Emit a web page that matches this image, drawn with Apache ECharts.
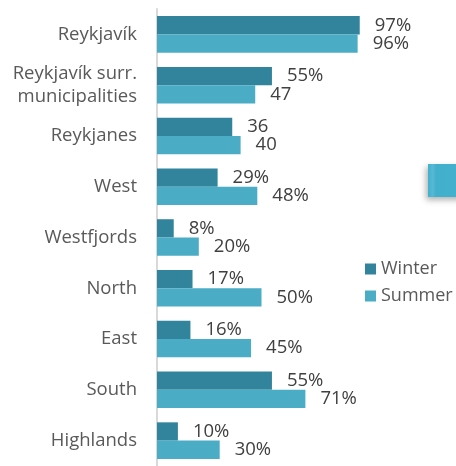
<!DOCTYPE html>
<html>
<head>
<meta charset="utf-8">
<script src="https://cdn.jsdelivr.net/npm/echarts@6/dist/echarts.min.js"></script>
<style>
  html, body { margin: 0; padding: 0; background: #ffffff; }
  #chart { width: 456px; height: 466px; }
</style>
</head>
<body>
<div id="chart"></div>
<script>
// Share of visitors per region, winter vs summer
const regions = [
  'Reykjavík',
  'Reykjavík surr.\nmunicipalities',
  'Reykjanes',
  'West',
  'Westfjords',
  'North',
  'East',
  'South',
  'Highlands'
];
const winterValues = [97, 55, 36, 29, 8, 17, 16, 55, 10];
const summerValues = [96, 47, 40, 48, 20, 50, 45, 71, 30];
const winterLabels = ['97%', '55%', '36', '29%', '8%', '17%', '16%', '55%', '10%'];
const summerLabels = ['96%', '47', '40', '48%', '20%', '50%', '45%', '71%', '30%'];

const FONT = '"Open Sans", "Noto Sans", sans-serif';
const LABEL_SIZE = 18.5;
const LEGEND_SIZE = 18;
const WINTER_COLOR = '#31849b';
const SUMMER_COLOR = '#4bacc6';

const chart = echarts.init(document.getElementById('chart'), null, { renderer: 'canvas' });

const valueLabel = (labels) => ({
  show: true,
  position: 'right',
  distance: 15,
  color: '#404040',
  fontFamily: FONT,
  fontSize: LABEL_SIZE,
  formatter: (p) => labels[p.dataIndex]
});

chart.setOption({
  animation: false,
  backgroundColor: '#ffffff',
  grid: { left: 157, right: 90, top: 9, bottom: -8 },
  legend: {
    orient: 'vertical',
    left: 365,
    top: 260,
    padding: 0,
    icon: 'rect',
    itemWidth: 11,
    itemHeight: 11,
    itemGap: 9,
    textStyle: { color: '#595959', fontFamily: FONT, fontSize: LEGEND_SIZE },
    data: ['Winter', 'Summer']
  },
  xAxis: {
    type: 'value',
    min: 0,
    max: 100,
    show: false
  },
  yAxis: {
    type: 'category',
    inverse: true,
    data: regions,
    axisLine: { show: true, lineStyle: { color: '#d9d9d9', width: 2 } },
    axisTick: { show: false },
    axisLabel: {
      color: '#595959',
      fontFamily: FONT,
      fontSize: LABEL_SIZE,
      lineHeight: 23,
      margin: 20,
      align: 'right'
    }
  },
  series: [
    {
      name: 'Winter',
      type: 'bar',
      data: winterValues,
      barGap: '0%',
      barCategoryGap: '28%',
      itemStyle: { color: WINTER_COLOR },
      label: valueLabel(winterLabels)
    },
    {
      name: 'Summer',
      type: 'bar',
      data: summerValues,
      barGap: '0%',
      barCategoryGap: '28%',
      itemStyle: { color: SUMMER_COLOR },
      label: valueLabel(summerLabels)
    }
  ],
  graphic: [
    {
      type: 'rect',
      left: 428,
      top: 164,
      shape: { width: 40, height: 33 },
      style: {
        fill: new echarts.graphic.LinearGradient(0, 0, 1, 0, [
          { offset: 0, color: '#42afcc' },
          { offset: 0.12, color: '#55bad5' },
          { offset: 0.2, color: '#42afcc' },
          { offset: 1, color: '#44b1ce' }
        ]),
        shadowBlur: 6,
        shadowOffsetX: -2,
        shadowOffsetY: 3,
        shadowColor: 'rgba(0,0,0,0.3)'
      }
    }
  ]
});
</script>
</body>
</html>
